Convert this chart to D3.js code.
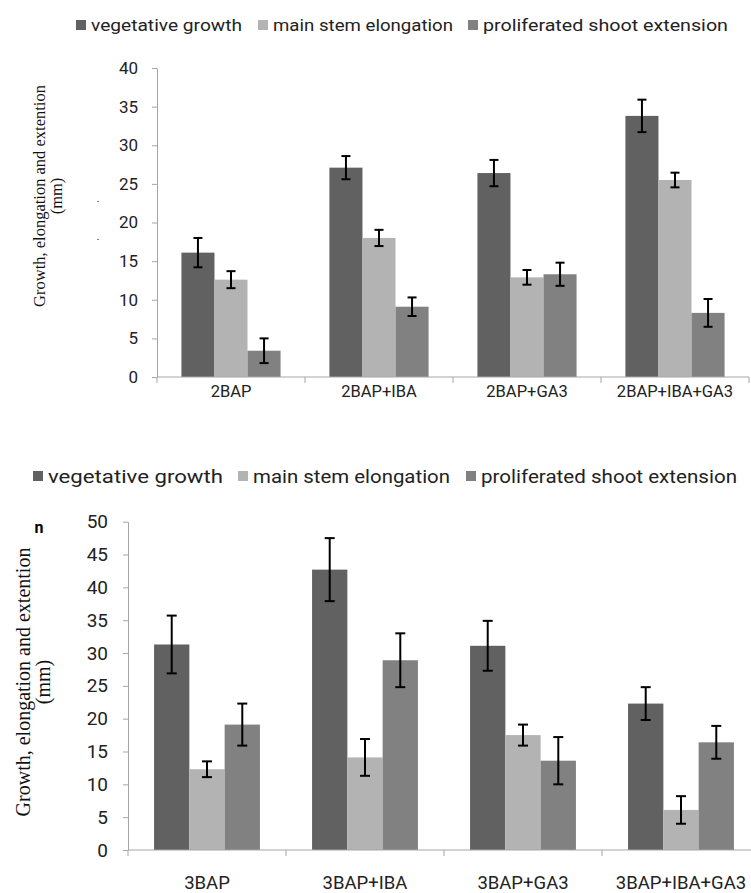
<!DOCTYPE html>
<html>
<head>
<meta charset="utf-8">
<script src="https://cdn.jsdelivr.net/npm/d3@7"></script>
<style>
    body { margin: 0; background: #fff; }
    svg { display: block; }
</style>
</head>
<body>
<svg id="chart" width="751" height="893"></svg>
<script>
"use strict";

// Series and categories
const seriesNames = ["vegetative growth", "main stem elongation", "proliferated shoot extension"];

const topCategories = ["2BAP", "2BAP+IBA", "2BAP+GA3", "2BAP+IBA+GA3"];
const topVegetative    = [16.1, 27.1, 26.4, 33.8];
const topVegetativeErr = [1.9, 1.5, 1.7, 2.1];
const topStem          = [12.6, 18.0, 12.9, 25.5];
const topStemErr       = [1.1, 1.05, 0.95, 0.95];
const topShoot         = [3.4, 9.1, 13.3, 8.3];
const topShootErr      = [1.6, 1.2, 1.5, 1.8];
const topTicks = [0, 5, 10, 15, 20, 25, 30, 35, 40];

const bottomCategories = ["3BAP", "3BAP+IBA", "3BAP+GA3", "3BAP+IBA+GA3"];
const bottomVegetative    = [31.3, 42.7, 31.1, 22.3];
const bottomVegetativeErr = [4.4, 4.8, 3.8, 2.5];
const bottomStem          = [12.3, 14.1, 17.5, 6.1];
const bottomStemErr       = [1.2, 2.8, 1.6, 2.1];
const bottomShoot         = [19.1, 28.9, 13.6, 16.4];
const bottomShootErr      = [3.2, 4.1, 3.6, 2.5];
const bottomTicks = [0, 5, 10, 15, 20, 25, 30, 35, 40, 45, 50];

const yTitle = "Growth, elongation and extention";
const yUnit = "(mm)";

const colors = ["#616161", "#b3b3b3", "#818181"];
const axisColor = "#a6a6a6";
const sansFont = "Roboto, 'Open Sans', sans-serif";
const serifFont = "'Liberation Serif', 'DejaVu Serif', serif";

const svg = d3.select("#chart");

function drawChart(cfg) {
    let g = svg.append("g");

    let x = d3.scaleBand()
        .domain(cfg.categories)
        .range([cfg.left, cfg.left + cfg.step * cfg.categories.length]);

    let x1 = d3.scaleBand()
        .domain(seriesNames)
        .range([cfg.step * 0.165, cfg.step * 0.835]);

    let y = d3.scaleLinear()
        .domain([0, d3.max(cfg.ticks)])
        .range([cfg.bottom, cfg.top]);

    // rows: one per category x series
    let rows = [];
    cfg.categories.forEach((c, i) => {
        seriesNames.forEach((s, j) => {
            rows.push({cat: c, ser: s, idx: j, v: cfg.values[j][i], e: cfg.errors[j][i]});
        });
    });

    // bars
    g.selectAll("rect.bar")
        .data(rows)
        .enter()
        .append("rect")
        .attr("class", "bar")
        .attr("x", (d) => x(d.cat) + x1(d.ser))
        .attr("width", x1.bandwidth())
        .attr("y", (d) => y(d.v))
        .attr("height", (d) => y(0) - y(d.v))
        .attr("fill", (d) => colors[d.idx]);

    // error bars
    let eb = g.selectAll("g.err")
        .data(rows)
        .enter()
        .append("g")
        .attr("class", "err")
        .attr("stroke", "#000")
        .attr("stroke-width", 2);
    let cx = (d) => x(d.cat) + x1(d.ser) + x1.bandwidth() / 2;
    eb.append("line")
        .attr("x1", cx).attr("x2", cx)
        .attr("y1", (d) => y(d.v + d.e)).attr("y2", (d) => y(d.v - d.e));
    eb.append("line")
        .attr("x1", (d) => cx(d) - cfg.cap).attr("x2", (d) => cx(d) + cfg.cap)
        .attr("y1", (d) => y(d.v + d.e)).attr("y2", (d) => y(d.v + d.e));
    eb.append("line")
        .attr("x1", (d) => cx(d) - cfg.cap).attr("x2", (d) => cx(d) + cfg.cap)
        .attr("y1", (d) => y(d.v - d.e)).attr("y2", (d) => y(d.v - d.e));

    // y axis
    let ya = g.append("g")
        .attr("transform", "translate(" + cfg.left + ",0)")
        .call(d3.axisLeft(y).tickValues(cfg.ticks).tickSize(5).tickPadding(cfg.tickPad).tickSizeOuter(0));
    ya.select(".domain").attr("stroke", axisColor);
    ya.selectAll(".tick line").attr("stroke", axisColor);
    ya.selectAll(".tick text")
        .attr("font-family", sansFont)
        .attr("font-size", cfg.tickFont)
        .attr("fill", "#222");

    // x axis line + separator ticks
    let xa = g.append("g");
    xa.append("line")
        .attr("x1", cfg.left).attr("x2", x.range()[1])
        .attr("y1", y(0)).attr("y2", y(0))
        .attr("stroke", axisColor);
    let bounds = cfg.categories.map((c) => x(c)).concat([x.range()[1]]);
    xa.selectAll("line.sep")
        .data(bounds)
        .enter()
        .append("line")
        .attr("class", "sep")
        .attr("x1", (d) => d).attr("x2", (d) => d)
        .attr("y1", y(0)).attr("y2", y(0) + 6)
        .attr("stroke", axisColor);
    xa.selectAll("text")
        .data(cfg.categories)
        .enter()
        .append("text")
        .attr("x", (d) => x(d) + x.bandwidth() / 2)
        .attr("y", cfg.labelY)
        .attr("text-anchor", "middle")
        .attr("font-family", sansFont)
        .attr("font-size", cfg.labelFont)
        .attr("fill", "#222")
        .text((d) => d);

    // y title
    let t = g.append("text")
        .attr("transform", "translate(" + cfg.titleX + "," + cfg.titleY + ") rotate(-90)")
        .attr("text-anchor", "middle")
        .attr("font-family", serifFont)
        .attr("font-size", cfg.titleFont)
        .attr("fill", "#111");
    t.append("tspan").attr("x", 0).attr("dy", 0).text(yTitle);
    t.append("tspan").attr("x", 0).attr("dy", cfg.titleGap).text(yUnit);

    // legend
    let lg = g.append("g");
    seriesNames.forEach((s, j) => {
        lg.append("rect")
            .attr("x", cfg.legend[j][0])
            .attr("y", cfg.legendY - 5)
            .attr("width", 10).attr("height", 10)
            .attr("fill", colors[j]);
        lg.append("text")
            .attr("x", cfg.legend[j][0] + 15)
            .attr("y", cfg.legendY)
            .attr("dominant-baseline", "central")
            .attr("font-family", sansFont)
            .attr("font-size", cfg.legendFont)
            .attr("fill", "#222")
            .attr("textLength", cfg.legend[j][1])
            .attr("lengthAdjust", "spacingAndGlyphs")
            .text(s);
    });

    return g;
}

drawChart({
    categories: topCategories,
    values: [topVegetative, topStem, topShoot],
    errors: [topVegetativeErr, topStemErr, topShootErr],
    ticks: topTicks,
    left: 157, step: 148, top: 68, bottom: 377,
    cap: 4.5, tickPad: 14, tickFont: 17,
    labelY: 397, labelFont: 16.5,
    titleX: 45, titleY: 196, titleFont: 16.5, titleGap: 17,
    legendY: 25, legendFont: 17,
    legend: [[76, 151], [258, 180], [468, 245]]
});

let bottomChart = drawChart({
    categories: bottomCategories,
    values: [bottomVegetative, bottomStem, bottomShoot],
    errors: [bottomVegetativeErr, bottomStemErr, bottomShootErr],
    ticks: bottomTicks,
    left: 128, step: 158, top: 521.7, bottom: 850,
    cap: 5, tickPad: 15, tickFont: 19,
    labelY: 889, labelFont: 18.5,
    titleX: 30, titleY: 682, titleFont: 20, titleGap: 20,
    legendY: 476, legendFont: 18,
    legend: [[33, 175], [238, 197], [466, 256]]
});

// stray marks in the original scan
svg.append("text").attr("x", 98).attr("y", 202).attr("font-size", 10).attr("text-anchor", "middle").text(".");
svg.append("text").attr("x", 98).attr("y", 240).attr("font-size", 10).attr("text-anchor", "middle").text(".");
bottomChart.append("text")
    .attr("x", 39).attr("y", 533)
    .attr("text-anchor", "middle")
    .attr("font-family", sansFont)
    .attr("font-weight", "bold")
    .attr("font-size", 16)
    .text("n");
</script>
</body>
</html>
